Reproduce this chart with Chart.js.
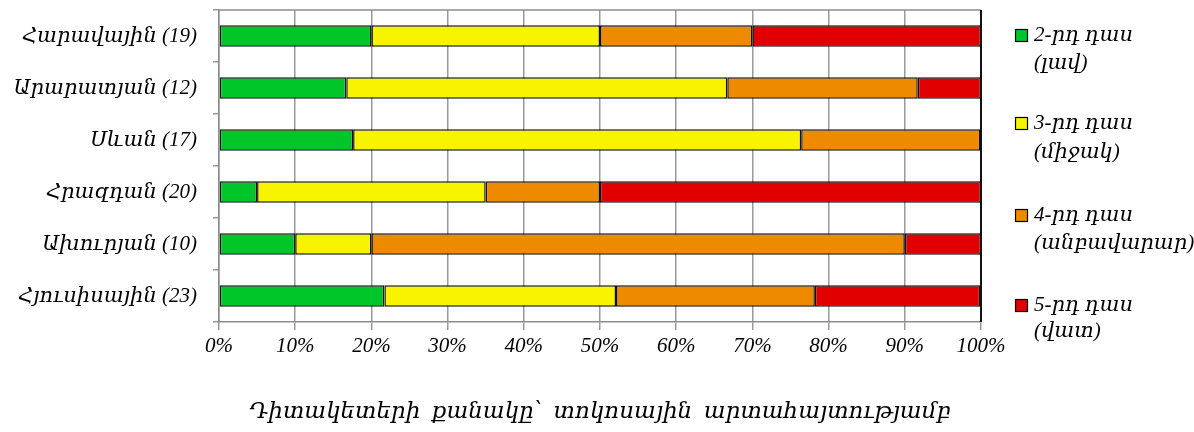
<!DOCTYPE html>
<html>
<head>
<meta charset="utf-8">
<script src="https://cdn.jsdelivr.net/npm/chart.js@4/dist/chart.umd.min.js"></script>
<style>
  html, body { margin: 0; padding: 0; background: #fff; }
  #wrap { width: 1194px; height: 432px; position: relative; }
</style>
</head>
<body>
<div id="wrap"><canvas id="c" width="1194" height="432"></canvas></div>
<script>
// Regions (number of observation points in brackets)
const categories = [
  'Հարավային (19)',
  'Արարատյան (12)',
  'Սևան (17)',
  'Հրազդան (20)',
  'Ախուրյան (10)',
  'Հյուսիսային (23)'
];

// Share of points in each water-quality class, %
const class2 = [20, 16.7, 17.6, 5, 10, 21.7];
const class3 = [30, 50, 58.8, 30, 10, 30.4];
const class4 = [20, 25, 23.5, 15, 70, 26.1];
const class5 = [30, 8.3, 0, 50, 10, 21.7];

const seriesNames = [
  ['2-րդ դաս', '(լավ)'],
  ['3-րդ դաս', '(միջակ)'],
  ['4-րդ դաս', '(անբավարար)'],
  ['5-րդ դաս', '(վատ)']
];
const seriesColors = ['#00C62A', '#F8F400', '#EE8A00', '#E00000'];

const xTicks = [0, 10, 20, 30, 40, 50, 60, 70, 80, 90, 100];
const axisTitle = 'Դիտակետերի  քանակը՝  տոկոսային  արտահայտությամբ';

const FONT = '"Liberation Serif", "DejaVu Serif", serif';

// Legend on the right, each label on two lines
const sideLegend = {
  id: 'sideLegend',
  afterDraw(chart) {
    const ctx = chart.ctx;
    const rows = [[35, 63], [123, 152], [215, 243], [305, 331]];
    ctx.save();
    ctx.font = 'italic 21px ' + FONT;
    ctx.textBaseline = 'middle';
    ctx.textAlign = 'left';
    seriesNames.forEach((lines, i) => {
      const y = rows[i];
      ctx.fillStyle = seriesColors[i];
      ctx.fillRect(1015, y[0] - 6, 13, 13);
      ctx.strokeStyle = '#000';
      ctx.lineWidth = 1.2;
      ctx.strokeRect(1015.5, y[0] - 5.5, 12, 12);
      ctx.fillStyle = '#000';
      ctx.fillText(lines[0], 1034, y[0]);
      ctx.fillText(lines[1], 1034, y[1]);
    });
    ctx.restore();
  }
};

// Plot frame: grey top edge, dark right edge
const frame = {
  id: 'frame',
  afterDatasetsDraw(chart) {
    const { ctx, chartArea: a } = chart;
    ctx.save();
    ctx.strokeStyle = '#8c8c8c';
    ctx.lineWidth = 1.5;
    ctx.beginPath();
    ctx.moveTo(a.left, a.top);
    ctx.lineTo(a.right, a.top);
    ctx.stroke();
    ctx.strokeStyle = '#111';
    ctx.lineWidth = 2;
    ctx.beginPath();
    ctx.moveTo(a.right, a.top);
    ctx.lineTo(a.right, a.bottom);
    ctx.stroke();
    ctx.restore();
  }
};

const mk = (label, data, color) => ({
  label, data,
  backgroundColor: color,
  borderColor: '#111',
  borderWidth: 1.5,
  borderSkipped: false,
  categoryPercentage: 1,
  barPercentage: 0.41
});

new Chart(document.getElementById('c'), {
  type: 'bar',
  data: {
    labels: categories,
    datasets: [
      mk(seriesNames[0].join(' '), class2, seriesColors[0]),
      mk(seriesNames[1].join(' '), class3, seriesColors[1]),
      mk(seriesNames[2].join(' '), class4, seriesColors[2]),
      mk(seriesNames[3].join(' '), class5, seriesColors[3])
    ]
  },
  options: {
    indexAxis: 'y',
    responsive: false,
    animation: false,
    layout: { padding: { top: 10, right: 213, bottom: 2, left: 0 } },
    plugins: {
      legend: { display: false },
      tooltip: { enabled: false }
    },
    scales: {
      x: {
        stacked: true,
        min: 0,
        max: 100,
        afterBuildTicks(scale) { scale.ticks = xTicks.map(v => ({ value: v })); },
        afterFit(scale) { scale.height = 108; scale.paddingLeft = 0; scale.paddingRight = 0; },
        grid: { color: '#999', lineWidth: 1.5, tickLength: 8 },
        border: { color: '#8c8c8c', width: 1.5 },
        ticks: {
          color: '#000',
          padding: 4,
          font: { family: FONT, size: 21, style: 'italic' },
          callback: v => v + '%'
        },
        title: {
          display: true,
          text: axisTitle,
          color: '#000',
          font: { family: FONT, size: 23, style: 'italic' }
        }
      },
      y: {
        stacked: true,
        afterFit(scale) { scale.width = 219; scale.paddingTop = 0; scale.paddingBottom = 0; },
        grid: { offset: true, drawOnChartArea: false, color: '#999', lineWidth: 1.5, tickLength: 6 },
        border: { color: '#8c8c8c', width: 1.5 },
        ticks: {
          color: '#000',
          padding: 16,
          font: { family: FONT, size: 21, style: 'italic' }
        }
      }
    }
  },
  plugins: [frame, sideLegend]
});
</script>
</body>
</html>
